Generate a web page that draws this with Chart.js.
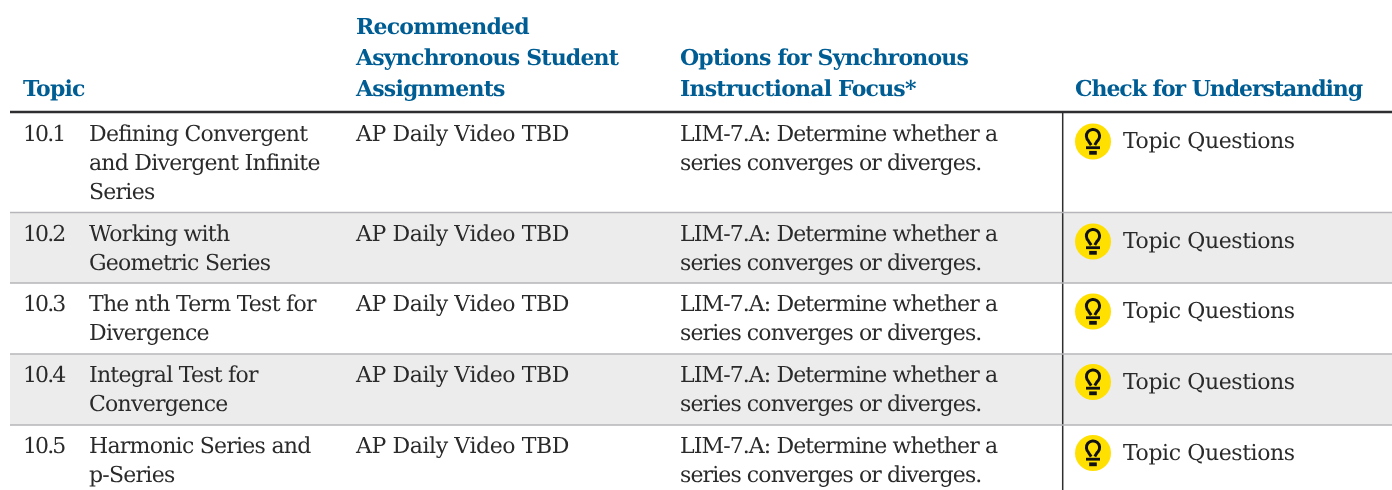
<!DOCTYPE html>
<html>
<head>
<meta charset="utf-8">
<style>
  html, body { margin: 0; padding: 0; background: #ffffff; }
  #wrap { width: 1392px; height: 490px; }
</style>
</head>
<body>
<div id="wrap"><canvas id="tableChart"></canvas></div>
<script src="https://cdn.jsdelivr.net/npm/chart.js@4"></script>
<script>
// Table contents
const headers = [
    { x: 23, lines: ["Topic"] },
    { x: 356, lines: ["Recommended", "Asynchronous Student", "Assignments"] },
    { x: 680, lines: ["Options for Synchronous", "Instructional Focus*"] },
    { x: 1075, lines: ["Check for Understanding"] }
];
const topicNumbers = ["10.1", "10.2", "10.3", "10.4", "10.5"];
const topicTitles = [
    ["Defining Convergent", "and Divergent Infinite", "Series"],
    ["Working with", "Geometric Series"],
    ["The nth Term Test for", "Divergence"],
    ["Integral Test for", "Convergence"],
    ["Harmonic Series and", "p-Series"]
];
const assignments = ["AP Daily Video TBD", "AP Daily Video TBD", "AP Daily Video TBD", "AP Daily Video TBD", "AP Daily Video TBD"];
const focusLines = ["LIM-7.A: Determine whether a", "series converges or diverges."];
const checkLabel = "Topic Questions";

// Row geometry, in the table's own units
const rowEdges = [113, 212.5, 283, 354, 425, 490];
const rowBaselines = [141, 241, 311, 382, 453];
const iconCenters = [141.5, 241.5, 311.5, 382, 453];
const headerBaselines = [96, 65, 34];
const columnX = { num: 23, title: 89, assign: 356, focus: 680, icon: 1093, check: 1123, divider: 1062.7 };

const SERIF = '"DejaVu Serif"';
const LINE_GAP = 29;
const CHECK_DROP = 7;

const rowBands = rowEdges.slice(0, -1).map((top, i) => ({
    type: "bar",
    xAxisID: "band",
    yAxisID: "y",
    data: [[top, rowEdges[i + 1]]],
    backgroundColor: i % 2 === 1 ? "#ececec" : "#ffffff",
    barPercentage: 1,
    categoryPercentage: 1,
    grouped: false,
    order: 5
}));

function rule(x1, y1, x2, y2, color, width) {
    return {
        type: "line",
        xAxisID: "x",
        yAxisID: "y",
        data: [{ x: x1, y: y1 }, { x: x2, y: y2 }],
        borderColor: color,
        borderWidth: width,
        pointRadius: 0,
        order: 2
    };
}

const rowRules = rowEdges.slice(1, -1).map(y => rule(10, y, 1392, y, "#b6b6ba", 1.5));
const headerRule = rule(10, 112, 1392, 112, "#2e2e30", 2.5);
const dividerRule = rule(columnX.divider, 113, columnX.divider, 490, "#2e2e30", 1.5);

const iconDots = {
    type: "scatter",
    xAxisID: "x",
    yAxisID: "y",
    data: iconCenters.map(y => ({ x: columnX.icon, y: y })),
    backgroundColor: "#ffe000",
    borderWidth: 0,
    pointRadius: 18,
    pointHoverRadius: 18,
    order: 1
};

// Text and the bulbs inside the yellow dots
const tableText = {
    id: "tableText",
    afterDatasetsDraw(chart) {
        const ctx = chart.ctx;
        const sx = chart.scales.x;
        const sy = chart.scales.y;

        function put(text, x, y, font, color, spacing) {
            ctx.font = font;
            ctx.fillStyle = color;
            ctx.letterSpacing = spacing;
            ctx.fillText(text, sx.getPixelForValue(x), sy.getPixelForValue(y));
        }

        ctx.save();
        ctx.textBaseline = "alphabetic";
        ctx.textAlign = "left";
        ctx.textRendering = "geometricPrecision";

        const headFont = "bold 22px " + SERIF;
        const bodyFont = "22px " + SERIF;
        const bodyColor = "#2b2a2b";

        headers.forEach(h => {
            // the last column's heading sets a little tighter
            const spacing = h.x === 1075 ? "-1.05px" : "-0.8px";
            h.lines.forEach((line, i) => {
                const row = h.lines.length - 1 - i;
                put(line, h.x, headerBaselines[row], headFont, "#005d93", spacing);
            });
        });

        topicNumbers.forEach((num, i) => {
            const base = rowBaselines[i];
            put(num, columnX.num, base, bodyFont, bodyColor, "-1.9px");
            topicTitles[i].forEach((line, j) => {
                put(line, columnX.title, base + j * LINE_GAP, bodyFont, bodyColor, "-0.75px");
            });
            put(assignments[i], columnX.assign, base, bodyFont, bodyColor, "-0.4px");
            focusLines.forEach((line, j) => {
                put(line, columnX.focus, base + j * LINE_GAP, bodyFont, bodyColor, "-0.9px");
            });
            put(checkLabel, columnX.check, base + CHECK_DROP, bodyFont, bodyColor, "-0.4px");
        });
        ctx.letterSpacing = "0px";

        // Light bulb glyph
        ctx.strokeStyle = "#111111";
        ctx.fillStyle = "#111111";
        iconCenters.forEach(y => {
            const cx = sx.getPixelForValue(columnX.icon);
            const cy = sy.getPixelForValue(y);
            ctx.lineWidth = 3;
            ctx.beginPath();
            ctx.arc(cx, cy - 5.5, 6.6, Math.PI * 0.72, Math.PI * 0.28);
            ctx.lineTo(cx + 1.8, cy + 3.6);
            ctx.moveTo(cx - 1.8, cy + 3.6);
            ctx.lineTo(cx - 4.6, cy - 0.5);
            ctx.stroke();
            ctx.fillRect(cx - 7, cy + 4.8, 14, 2.8);
            ctx.fillRect(cx - 3.8, cy + 9.4, 7.6, 3.8);
        });
        ctx.restore();
    }
};

new Chart(document.getElementById("tableChart"), {
    data: {
        labels: ["rows"],
        datasets: [...rowBands, ...rowRules, headerRule, dividerRule, iconDots]
    },
    plugins: [tableText],
    options: {
        responsive: true,
        maintainAspectRatio: false,
        animation: false,
        layout: { autoPadding: false, padding: { left: 10, right: 0, top: 0, bottom: 0 } },
        plugins: { legend: { display: false }, tooltip: { enabled: false } },
        scales: {
            band: { type: "category", labels: ["rows"], display: false, offset: true },
            x: { type: "linear", min: 10, max: 1392, display: false },
            y: { type: "linear", reverse: true, min: 0, max: 490, display: false }
        }
    }
});
</script>
</body>
</html>
